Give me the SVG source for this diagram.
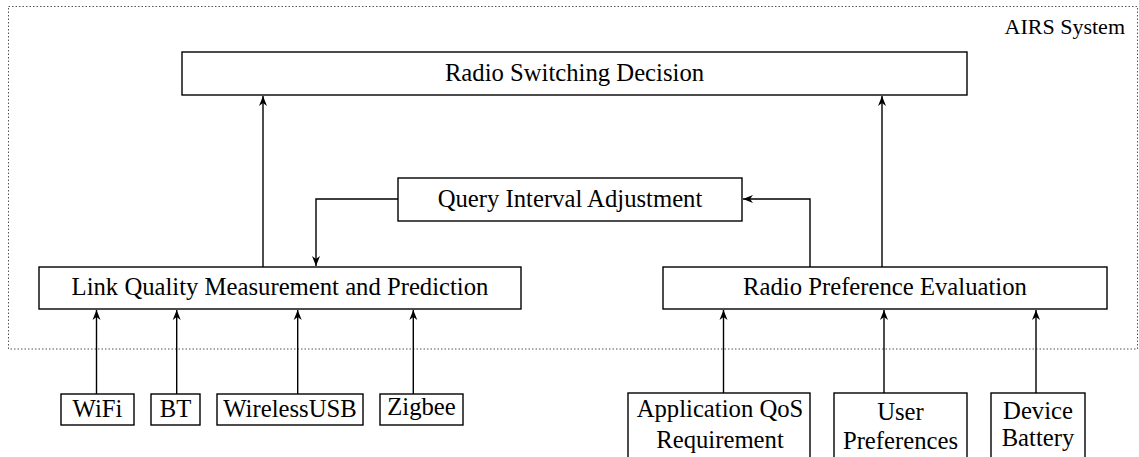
<svg xmlns="http://www.w3.org/2000/svg" width="1139" height="457" viewBox="0 0 1139 457">
<style>
.box{fill:#fff;stroke:#000;stroke-width:1.4}
.t{font-family:"Liberation Serif","Times New Roman",serif;font-size:24.7px;fill:#000;text-anchor:middle}
.c{fill:none;stroke:#000;stroke-width:1.4}
</style>
<defs>
<marker id="ah" viewBox="-11 -5 12 10" markerWidth="12" markerHeight="10" refX="0" refY="0" orient="auto" markerUnits="userSpaceOnUse">
<path d="M0,0 L-10,-4 L-7,0 L-10,4 Z" fill="#000"/>
</marker>
</defs>
<rect width="1139" height="457" fill="#fff"/>
<g id="airs-system">
<rect x="8.5" y="6.5" width="1129" height="342.5" fill="none" stroke="#555" stroke-width="1" stroke-dasharray="1.5,2"/>
<text x="1125" y="34" font-family="'Liberation Serif','Times New Roman',serif" font-size="22" text-anchor="end">AIRS System</text>
</g>
<g id="connectors">
<path class="c" d="M263,267 V96" marker-end="url(#ah)"/>
<path class="c" d="M882,267 V96" marker-end="url(#ah)"/>
<path class="c" d="M398,199 H316 V266" marker-end="url(#ah)"/>
<path class="c" d="M810,267 V199 H743" marker-end="url(#ah)"/>
<path class="c" d="M96.5,394 V310" marker-end="url(#ah)"/>
<path class="c" d="M176.7,394 V310" marker-end="url(#ah)"/>
<path class="c" d="M297.7,394 V310" marker-end="url(#ah)"/>
<path class="c" d="M413.3,394 V310" marker-end="url(#ah)"/>
<path class="c" d="M723.5,393 V310" marker-end="url(#ah)"/>
<path class="c" d="M884,393 V310" marker-end="url(#ah)"/>
<path class="c" d="M1036,393 V310" marker-end="url(#ah)"/>
</g>
<g id="radio-switching-decision">
<rect class="box" x="182" y="52" width="785" height="43"/>
<text class="t" x="574.5" y="80.7">Radio Switching Decision</text>
</g>
<g id="query-interval-adjustment">
<rect class="box" x="398" y="178" width="344" height="43"/>
<text class="t" x="570" y="206.7">Query Interval Adjustment</text>
</g>
<g id="link-quality">
<rect class="box" x="39" y="267" width="482" height="42"/>
<text class="t" x="280" y="294.8">Link Quality Measurement and Prediction</text>
</g>
<g id="radio-preference-evaluation">
<rect class="box" x="663" y="267" width="444" height="42"/>
<text class="t" x="885" y="294.8">Radio Preference Evaluation</text>
</g>
<g id="wifi">
<rect class="box" x="61" y="394" width="73" height="31"/>
<text class="t" x="97.5" y="416.7">WiFi</text>
</g>
<g id="bt">
<rect class="box" x="151" y="394" width="49" height="31"/>
<text class="t" x="175.5" y="416.7">BT</text>
</g>
<g id="wirelessusb">
<rect class="box" x="217" y="394" width="146" height="31"/>
<text class="t" x="290" y="416.7">WirelessUSB</text>
</g>
<g id="zigbee">
<rect class="box" x="380" y="394" width="83" height="31"/>
<text class="t" x="421.5" y="415">Zigbee</text>
</g>
<g id="application-qos">
<rect class="box" x="628" y="393" width="182" height="70"/>
<text class="t" x="720" y="417.3">Application QoS</text>
<text class="t" x="720" y="448.3">Requirement</text>
</g>
<g id="user-preferences">
<rect class="box" x="834" y="393" width="133" height="70"/>
<text class="t" x="900.5" y="420">User</text>
<text class="t" x="900.5" y="449">Preferences</text>
</g>
<g id="device-battery">
<rect class="box" x="991" y="393" width="94" height="70"/>
<text class="t" x="1038" y="418.5">Device</text>
<text class="t" x="1038" y="446">Battery</text>
</g>
</svg>
